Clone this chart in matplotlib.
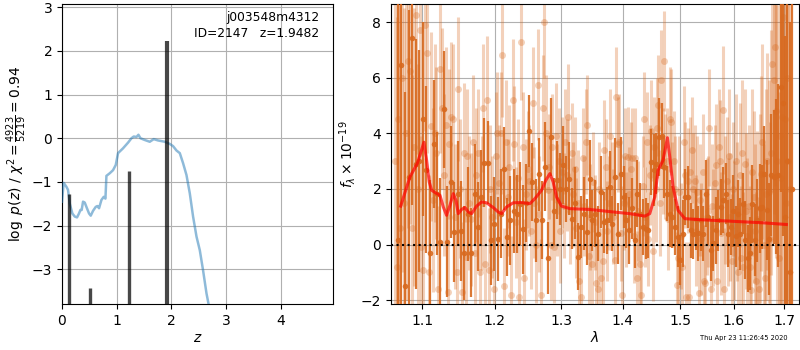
import numpy as np
import matplotlib
matplotlib.use("Agg")
import matplotlib.pyplot as plt
from matplotlib.ticker import NullLocator, FixedLocator, FixedFormatter

# ---------------- left panel data: log p(z) ----------------
pz_z = [0.0, 0.007, 0.031, 0.081, 0.11, 0.141, 0.19, 0.233, 0.275, 0.311, 0.337, 0.36,
        0.385, 0.416, 0.447, 0.495, 0.526, 0.568, 0.617, 0.648, 0.678, 0.722, 0.764,
        0.795, 0.813, 0.874, 0.934, 0.984, 1.026, 1.117, 1.209, 1.271, 1.313, 1.363,
        1.399, 1.436, 1.515, 1.606, 1.679, 1.758, 1.881, 1.973, 2.033, 2.095, 2.156,
        2.216, 2.278, 2.339, 2.399, 2.462, 2.522, 2.582, 2.645, 2.687]
pz_logp = [-1.45, -1.34, -1.02, -1.11, -1.18, -1.49, -1.72, -1.79, -1.81, -1.72, -1.64,
           -1.64, -1.45, -1.47, -1.57, -1.72, -1.77, -1.66, -1.57, -1.55, -1.60, -1.41,
           -1.34, -1.38, -0.86, -0.80, -0.73, -0.61, -0.34, -0.23, -0.10, 0.0, 0.04,
           0.03, 0.08, 0.0, -0.04, -0.08, -0.02, -0.05, -0.08, -0.13, -0.18, -0.28,
           -0.34, -0.57, -0.84, -1.26, -1.79, -2.25, -2.56, -3.02, -3.55, -3.82]
peak_z = [0.122, 0.52, 1.221, 1.93]
peak_logp = [-1.28, -3.43, -0.76, 2.22]

# ---------------- right panel data: spectrum ----------------
dark_wave_start, dark_wave_step = 1.068, 0.0047
dark_flux = [0.16, 6.47, -1.5, 2.43, 7.43, 2.9, 3.0, 4.52, 2.69, -0.29,
             3.6, 1.83, 0.1, 4.86, 0.1, 2.25, 0.45, 1.83, 0.5, -0.3,
             1.1, -0.3, 1.8, 0.63, 1.7, 2.94, 2.94, 0.16, 0.73, 0.2,
             1.11, 2.73, 0.28, 0.87, 1.2, 1.11, 1.47, 0.54, 1.5, 4.07,
             2.25, 0.87, 2.52, 0.87, 2.79, -0.48, 3.86, 1.2, 2.31, 2.0,
             2.85, 2.0, 2.37, 0.93, 1.5, -0.44, 0.63, 1.11, 0.45, 2.37,
             0.87, 1.11, 0.39, 1.89, 0.8, 0.87, 2.07, 0.75, 2.43, 0.39,
             2.55, 1.71, 0.87, 0.51, 1.3, 0.16, 1.83, 1.11, 0.63, 0.57,
             0.51, 2.97, 2.67, 2.91, 3.86, 3.9, 2.79, 1.83, 1.11, 0.99,
             0.63, 0.28, -0.56, 0.39, 1.7, 1.71, 0.51, 0.39, 0.9, 0.4,
             0.87, 0.39, 1.83, 0.99, -0.2, 0.04, 0.51, 0.87, 1.35, 1.6,
             1.83, 0.39, 0.63, 1.2, 0.3, 1.11, 0.39, 1.47, 0.16, -0.5,
             -0.32, 1.45, 0.16, 0.87, 1.3, 1.35, 2.55, 1.23, 0.2, 2.5,
             2.43, 2.45, 2.49, 5.68, 5.1, 1.0, 3.0, -1.0, 2.0]
dark_err = [9, 9, 7, 6, 6, 4.5, 4, 3.5, 3, 2.6,
            2.3, 2.2, 2.3, 2.1, 2.0, 2.0, 1.8, 1.9, 1.8, 1.7,
            1.7, 1.6, 1.8, 1.6, 1.7, 1.6, 1.5, 1.6, 1.7, 1.5,
            1.6, 1.5, 1.4, 1.6, 1.5, 1.4, 1.5, 1.6, 1.4, 1.3,
            1.4, 1.5, 1.3, 1.4, 1.6, 1.3, 1.4, 1.2, 1.4, 1.3,
            1.4, 1.2, 1.3, 1.1, 1.3, 1.2, 1.1, 1.3, 1.2, 1.4,
            1.1, 1.2, 1.0, 1.3, 1.1, 1.2, 1.3, 1.0, 1.4, 1.1,
            1.3, 1.1, 1.0, 1.2, 1.1, 1.0, 1.2, 1.1, 1.0, 1.1,
            1.0, 1.2, 1.3, 1.1, 1.4, 1.2, 1.1, 1.0, 1.2, 1.1,
            1.0, 1.1, 0.9, 1.2, 1.0, 1.1, 1.0, 0.9, 1.1, 1.0,
            1.1, 1.0, 1.2, 1.0, 1.1, 1.0, 1.2, 1.1, 1.0, 1.2,
            1.1, 1.2, 1.0, 1.3, 1.1, 1.2, 1.3, 1.1, 1.4, 1.2,
            1.3, 1.4, 1.3, 1.5, 1.6, 1.5, 1.7, 1.8, 2.0, 2.2,
            2.4, 2.8, 3.3, 3.8, 4.8, 6.5, 8.0, 9.0, 9.0]

light_wave_start, light_wave_step = 1.064, 0.0025
light_flux = [3.0, -0.8, 4.5, 0.6, 6.0, 1.5, 4.0, 6.6, 6.25, 0.6,
              3.5, 8.27, 2.0, 7.7, -0.1, -0.9, 7.9, 6.9, -1.0, 4.25,
              1.6, 4.0, 3.3, -1.6, 6.3, 4.9, 2.5, 4.3, -1.7, 3.6,
              4.6, 4.5, 1.0, -1.0, 5.6, 2.0, -1.7, 3.3, -0.45, 3.2,
              1.5, 0.9, 3.7, -0.3, 2.5, 3.3, -1.0, 1.5, 4.9, -0.7,
              5.2, -0.9, 2.0, 1.0, -1.6, 3.2, 4.0, 2.2, 4.0, 6.8,
              -1.5, 3.7, 1.7, 2.8, -1.8, 5.2, 3.6, 0.8, 2.4, -1.9,
              7.3, 3.5, -1.2, 1.8, 2.7, 2.3, 0.5, 5.1, 1.5, 0.0,
              5.75, 1.1, -1.8, 4.9, 8.0, 4.0, 1.95, 2.8, 0.0, 3.5,
              -0.1, 3.9, 1.6, 3.0, 0.5, 2.6, 1.4, 3.7, 2.5, 4.6,
              1.2, 3.3, 1.8, 2.7, 0.6, 1.5, -1.3, -1.9, 3.1, 1.4,
              3.7, 4.3, -0.4, 1.0, -0.7, 2.25, 0.8, -1.4, -1.6, 2.0,
              -1.2, -0.6, 3.4, 2.8, 0.5, 1.5, 3.9, 1.9, 1.0, -0.55,
              5.3, 3.6, 3.7, 0.4, -1.8, 1.5, 3.2, 0.9, 3.15, 1.8,
              2.7, 3.1, 0.3, 3.1, -1.2, 1.2, -0.7, -1.8, 2.1, 4.5,
              1.0, 3.7, 0.2, 2.5, 4.1, -0.25, 3.5, 2.0, 4.2, 5.0,
              1.5, 5.9, 3.0, 6.6, 2.8, 3.0, 0.9, 4.5, 4.4, 1.8,
              3.0, 2.0, -1.46, -0.5, 1.9, 0.3, -0.8, 3.7, 2.5, -1.9,
              2.3, -1.9, 2.6, 3.4, 2.0, 2.3, 0.5, 1.9, -1.76, 1.6,
              0.2, 2.6, -1.3, -1.4, 1.0, 1.2, 4.2, -1.6, 1.4, 0.6,
              2.2, 2.85, -1.3, 3.5, 3.0, 0.4, 4.85, -1.6, 1.6, 2.3,
              0.8, 3.2, 1.0, -0.6, 2.0, 0.5, 3.0, 1.2, -1.0, 2.5,
              -0.5, 3.3, -0.8, 2.9, 1.2, 0.3, 1.4, -0.8, -1.64, 2.6,
              1.7, 0.5, -1.3, 0.9, -1.6, 1.3, 2.55, 3.7, 0.0, -1.2,
              1.8, 3.0, 1.9, 0.2, 3.3, 6.5, 5.9, 7.1, 4.8, 3.0,
              -0.5, 3.9, 2.4, 4.6, 8.2, 4.5, 1.5, 6.0, 3.0, 2.0]
light_err = [9, 9, 8, 8, 7, 7, 6, 6, 5.5, 5.5, 5, 5, 4.5, 4.5, 4, 4, 3.8, 3.6, 3.5, 3.4,
             3.3, 3.2, 3.1, 3.0, 3.0, 2.9, 2.9, 2.8, 2.8, 2.7, 2.7, 2.7, 2.6, 2.6, 2.6, 2.5, 2.5, 2.5, 2.5, 2.4,
             2.4, 2.4, 2.4, 2.3, 2.4, 2.3, 2.3, 2.4, 2.3, 2.2, 2.3, 2.2, 2.3, 2.2, 2.2, 2.3, 2.2, 2.1, 2.2, 2.2,
             2.1, 2.2, 2.1, 2.2, 2.1, 2.2, 2.1, 2.0, 2.1, 2.2, 2.1, 2.0, 2.1, 2.0, 2.1, 2.0, 2.1, 2.0, 2.0, 2.1,
             2.0, 2.1, 2.0, 1.9, 2.0, 2.1, 2.0, 1.9, 2.0, 1.9, 2.0, 1.9, 2.0, 1.9, 1.9, 2.0, 1.9, 1.9, 2.0, 1.9,
             1.9, 1.8, 1.9, 1.9, 1.8, 1.9, 1.8, 1.9, 1.8, 1.8, 1.9, 1.8, 1.8, 1.9, 1.8, 1.8, 1.7, 1.8, 1.8, 1.7,
             1.8, 1.7, 1.8, 1.7, 1.8, 1.7, 1.7, 1.8, 1.7, 1.7, 1.8, 1.7, 1.7, 1.7, 1.8, 1.7, 1.7, 1.7, 1.8, 1.7,
             1.7, 1.8, 1.7, 1.8, 1.7, 1.8, 1.7, 1.8, 1.8, 1.7, 1.8, 1.8, 1.7, 1.8, 1.8, 1.8, 1.8, 1.9, 1.8, 1.8,
             1.9, 1.8, 1.9, 1.8, 1.9, 1.9, 1.8, 1.9, 1.9, 1.9, 1.8, 1.9, 1.9, 1.9, 2.0, 1.9, 1.9, 2.0, 1.9, 2.0,
             1.9, 2.0, 2.0, 1.9, 2.0, 2.0, 2.0, 2.0, 2.1, 2.0, 2.0, 2.1, 2.0, 2.1, 2.1, 2.0, 2.1, 2.1, 2.2, 2.1,
             2.1, 2.2, 2.2, 2.1, 2.2, 2.2, 2.3, 2.2, 2.3, 2.3, 2.3, 2.4, 2.3, 2.4, 2.4, 2.5, 2.4, 2.5, 2.5, 2.6,
             2.6, 2.6, 2.7, 2.7, 2.8, 2.8, 2.9, 2.9, 3.0, 3.0, 3.1, 3.1, 3.2, 3.2, 3.3, 3.4, 3.5, 3.5, 3.6, 3.7,
             3.8, 3.9, 4.0, 4.2, 4.4, 4.6, 4.8, 5.0, 5.3, 5.6, 6.0, 6.4, 6.8, 7.2, 7.6, 8.0, 8.5, 9.0, 9.5, 10.0]

model_wave = [1.0718, 1.0838, 1.0934, 1.0983, 1.1022, 1.1058, 1.1093, 1.1125, 1.1183,
              1.1237, 1.1282, 1.1327, 1.1373, 1.1418, 1.1455, 1.1487, 1.1533, 1.1580,
              1.1626, 1.1673, 1.1743, 1.1814, 1.1885, 1.1981, 1.2053, 1.2102, 1.2175,
              1.2273, 1.2396, 1.2521, 1.2597, 1.2698, 1.2764, 1.2826, 1.2877, 1.2929,
              1.3007, 1.3138, 1.3458, 1.3841, 1.4121, 1.4378, 1.4464, 1.4552, 1.4610,
              1.4698, 1.4775, 1.4817, 1.4876, 1.4966, 1.5087, 1.5300, 1.5925, 1.6576,
              1.7048]
model_flux = [1.38, 2.43, 2.91, 3.33, 3.68, 3.03, 2.25, 1.95, 1.85,
              1.77, 1.35, 1.05, 1.41, 1.83, 1.59, 1.11, 1.26, 1.33,
              1.17, 1.11, 1.38, 1.53, 1.50, 1.33, 1.17, 1.11, 1.35,
              1.50, 1.51, 1.47, 1.65, 1.95, 2.31, 2.55, 2.25, 1.71,
              1.38, 1.29, 1.26, 1.17, 1.11, 1.02, 1.11, 1.71, 2.67,
              3.03, 3.84, 3.15, 2.07, 1.23, 0.93, 0.90, 0.84, 0.78,
              0.72]

lam_ticks = [1.1, 1.2, 1.3, 1.4, 1.5, 1.6, 1.7]
z_ticks = [0, 1, 2, 3, 4]
logp_ticks = [-3, -2, -1, 0, 1, 2, 3]
flux_ticks = [-2, 0, 2, 4, 6, 8]

FS = 10
plt.rcParams['font.family'] = ['DejaVu Sans']
plt.rcParams['font.size'] = FS
plt.rcParams['mathtext.fontset'] = 'dejavusans'

fig = plt.figure(figsize=(8, 3.5), dpi=100)
ax1 = fig.add_axes([62 / 800, 46 / 350, 271 / 800, 300 / 350])
ax2 = fig.add_axes([391 / 800, 46 / 350, 408 / 800, 300 / 350])

# ---- left panel ----
ax1.plot(pz_z, pz_logp, color='#1f77b4', alpha=0.5, lw=1.8, zorder=3)
for zz, lp in zip(peak_z, peak_logp):
    ax1.vlines(zz, -10, lp, color='k', alpha=0.72, lw=3.0 if lp > 2 else 2.4, zorder=4)
ax1.set_xlim(0, 4.96)
ax1.set_ylim(-3.79, 3.07)
ax1.set_xticks(z_ticks)
ax1.set_yticks(logp_ticks)
ax1.grid(True, color='#b0b0b0', lw=0.8)
ax1.set_xlabel('$z$', labelpad=2)
ax1.set_ylabel(r'$\log\ p(z)$ / $\chi^2=\frac{4923}{5219}=0.94$', labelpad=2)
ax1.text(0.95, 0.975, 'j003548m4312\nID=2147   z=1.9482', transform=ax1.transAxes,
         ha='right', va='top', fontsize=8.8, linespacing=1.25)

# ---- right panel ----
dark_wave = dark_wave_start + dark_wave_step * np.arange(len(dark_flux))
light_wave = light_wave_start + light_wave_step * np.arange(len(light_flux))
orange = '#d8691e'
ax2.errorbar(light_wave, light_flux, yerr=light_err, fmt='o', color=orange, alpha=0.3,
             ms=5, mew=0, elinewidth=2.2, capsize=0, zorder=2)
ax2.errorbar(dark_wave, dark_flux, yerr=dark_err, fmt='o', color=orange, alpha=0.9,
             ms=4.0, mew=0, elinewidth=1.6, capsize=0, zorder=3)
ax2.plot(model_wave, model_flux, color='red', alpha=0.7, lw=2.2, zorder=5)
ax2.axhline(0, color='k', ls=':', lw=1.5, zorder=6)
ax2.set_xscale('log')
ax2.set_xlim(1.0594, 1.731)
ax2.set_ylim(-2.14, 8.65)
ax2.xaxis.set_major_locator(FixedLocator(lam_ticks))
ax2.xaxis.set_major_formatter(FixedFormatter(['%.1f' % t for t in lam_ticks]))
ax2.xaxis.set_minor_locator(NullLocator())
ax2.set_yticks(flux_ticks)
ax2.grid(True, color='#b0b0b0', lw=0.8)
ax2.set_xlabel(r'$\lambda$', labelpad=2)
ax2.set_ylabel(r'$f_\lambda \times 10^{-19}$', labelpad=2)

fig.text(0.985, 0.025, 'Thu Apr 23 11:26:45 2020', ha='right', va='bottom', fontsize=4.8)

fig.savefig('out.png', dpi=100)
